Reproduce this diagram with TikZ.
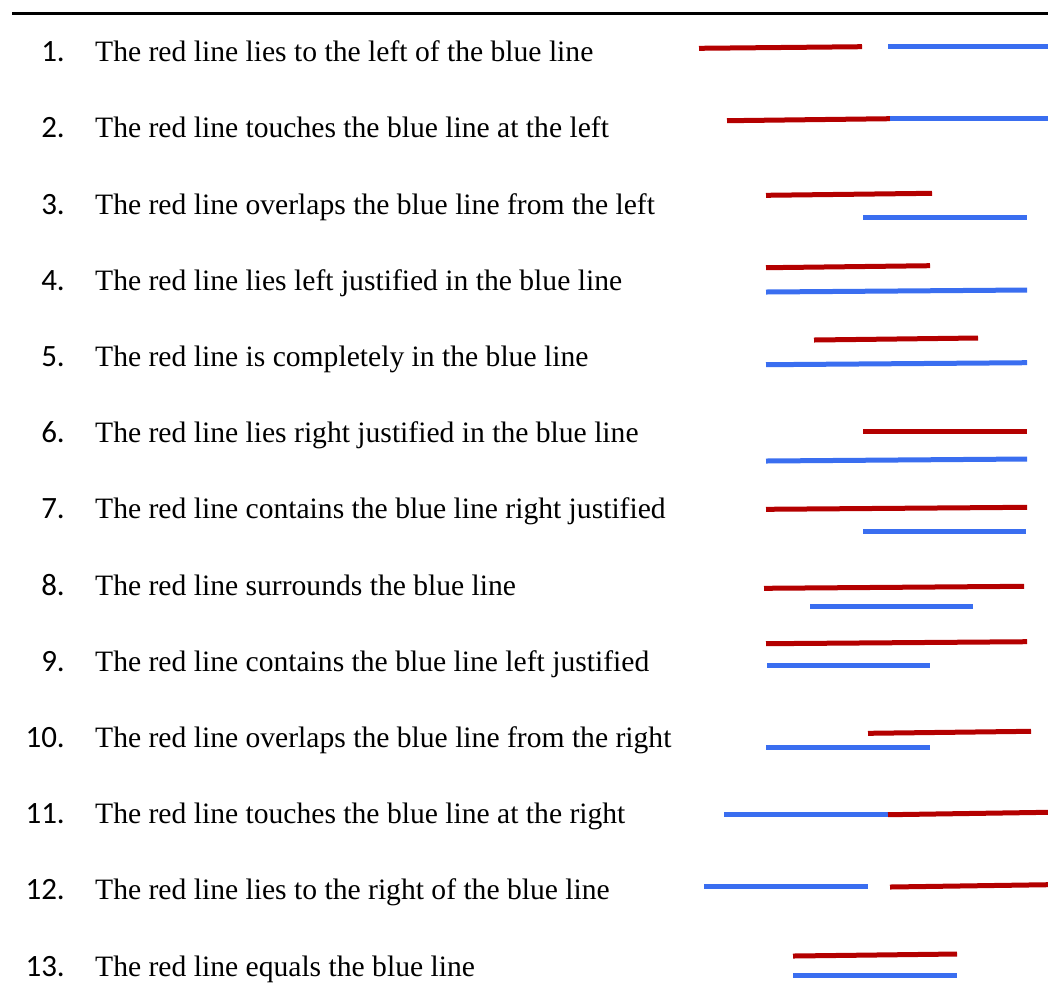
\documentclass[tikz,border=0pt]{standalone}
\usepackage{fontspec}
\setmainfont{Liberation Serif}
\newfontfamily\numfont{Carlito}
\definecolor{lred}{RGB}{180,0,0}
\definecolor{lblue}{RGB}{58,110,240}
\begin{document}
\begin{tikzpicture}[x=1pt,y=-1pt,
  txt/.style={anchor=base west,inner sep=0pt,font=\fontsize{29.6}{34}\selectfont},
  num/.style={anchor=base east,inner sep=0pt,font=\numfont\fontsize{31}{34}\selectfont},
  rl/.style={draw=lred,line width=5pt},
  bl/.style={draw=lblue,line width=5pt}]
\useasboundingbox (0,0) rectangle (1048,997);
\draw[line width=3pt] (12,13.5) -- (1048,13.5);
% texts
\foreach \i/\t in {1/The red line lies to the left of the blue line,
  2/The red line touches the blue line at the left,
  3/The red line overlaps the blue line from the left,
  4/The red line lies left justified in the blue line,
  5/The red line is completely in the blue line,
  6/The red line lies right justified in the blue line,
  7/The red line contains the blue line right justified,
  8/The red line surrounds the blue line,
  9/The red line contains the blue line left justified,
  10/The red line overlaps the blue line from the right,
  11/The red line touches the blue line at the right,
  12/The red line lies to the right of the blue line,
  13/The red line equals the blue line}{
  \pgfmathsetmacro{\yy}{61.7+(\i-1)*76.2}
  \node[num] (n\i) at (65,\yy) {\i.};
  \node[txt] (t\i) at (95,\yy) {\t};
}
% row 1
\draw[rl] (699,48.3) -- (862,46.7);
\draw[bl] (888,46.7) -- (1048,46.7);
% row 2
\draw[rl] (727,120.7) -- (890,118.7);
\draw[bl] (890,118.7) -- (1048,118.7);
% row 3
\draw[rl] (766,195.3) -- (932,193.3);
\draw[bl] (863,217.3) -- (1027,217.3);
% row 4
\draw[rl] (766,267.7) -- (930,265.7);
\draw[bl] (766,292) -- (1027,290);
% row 5
\draw[rl] (814,340) -- (978,338);
\draw[bl] (766,364.7) -- (1027,362.7);
% row 6
\draw[rl] (863,431) -- (1027,431);
\draw[bl] (766,461) -- (1027,459);
% row 7
\draw[rl] (766,509.3) -- (1027,507.3);
\draw[bl] (863,531.7) -- (1026,531.7);
% row 8
\draw[rl] (764,588.3) -- (1024,586.3);
\draw[bl] (810,606.7) -- (973,606.7);
% row 9
\draw[rl] (766,643.7) -- (1027,641.7);
\draw[bl] (767,665.3) -- (930,665.3);
% row 10
\draw[rl] (868,733.3) -- (1031,731.3);
\draw[bl] (766,747.7) -- (930,747.7);
% row 11
\draw[bl] (724,814.7) -- (888,814.7);
\draw[rl] (888,814.7) -- (1048,812.3);
% row 12
\draw[bl] (704,886.7) -- (868,886.7);
\draw[rl] (890,887) -- (1048,884.7);
% row 13
\draw[rl] (793,956) -- (957,954);
\draw[bl] (793,975) -- (957,975);
\end{tikzpicture}
\end{document}
